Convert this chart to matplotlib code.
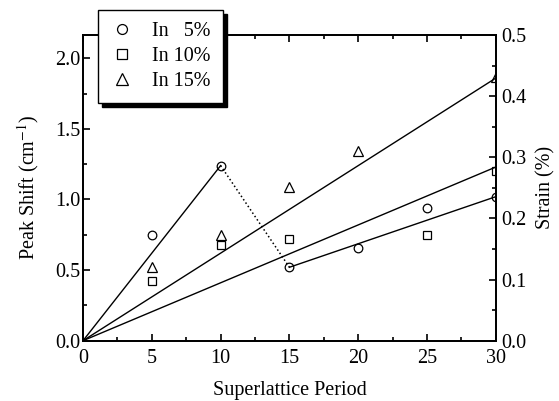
import numpy as np
import matplotlib
matplotlib.use('Agg')
import matplotlib.pyplot as plt
from matplotlib.ticker import MultipleLocator

plt.rcParams['font.family'] = ['Liberation Serif', 'DejaVu Serif']
plt.rcParams['mathtext.fontset'] = 'stix'

# data
period5 = [5, 10, 15, 20, 25, 30]
in5 = [0.75, 1.24, 0.52, 0.66, 0.94, 1.02]
period10 = [5, 10, 15, 25, 30]
in10 = [0.42, 0.68, 0.72, 0.75, 1.20]
period15 = [5, 10, 15, 20, 30]
in15 = [0.52, 0.75, 1.09, 1.34, 1.87]

# guide lines
fit5a_x = [0, 10]
fit5a_y = [0, 1.24]
fit5b_x = [15, 30]
fit5b_y = [0.52, 1.02]
link5_x = [10, 15]
link5_y = [1.24, 0.52]
fit10_x = [0, 30]
fit10_y = [0, 1.23]
fit15_x = [0, 30]
fit15_y = [0, 1.86]

fs = 14.5

fig = plt.figure(figsize=(5.59, 4.01), dpi=100)
ax = fig.add_axes([0.1485, 0.1504, 0.7385, 0.7623])
ax2 = ax.twinx()

mk = dict(ls='none', mfc='none', mec='black', mew=0.9)
h5, = ax.plot(period5, in5, marker='o', ms=6.2, label='In \u20075%', **mk)
h10, = ax.plot(period10, in10, marker='s', ms=5.8, label='In 10%', **mk)
h15, = ax.plot(period15, in15, marker='^', ms=7, label='In 15%', **mk)

ax.plot(fit5a_x, fit5a_y, color='black', lw=1)
ax.plot(fit5b_x, fit5b_y, color='black', lw=1)
ax.plot(link5_x, link5_y, color='black', lw=1.1, ls=':')
ax.plot(fit10_x, fit10_y, color='black', lw=1)
ax.plot(fit15_x, fit15_y, color='black', lw=1)

ax.set_xlim(0, 30)
ax.set_ylim(0, 2.165)
ax2.set_ylim(0, 0.5)

ax.xaxis.set_major_locator(MultipleLocator(5))
ax.xaxis.set_minor_locator(MultipleLocator(2.5))
ax.yaxis.set_major_locator(MultipleLocator(0.5))
ax.yaxis.set_minor_locator(MultipleLocator(0.25))
ax2.yaxis.set_major_locator(MultipleLocator(0.1))
ax2.yaxis.set_minor_locator(MultipleLocator(0.05))
ax.yaxis.set_major_formatter(plt.FormatStrFormatter('%.1f'))
ax2.yaxis.set_major_formatter(plt.FormatStrFormatter('%.1f'))

ax.tick_params(which='both', direction='in', top=True, labelsize=fs, width=1.2, pad=2)
ax.tick_params(axis='x', pad=6)
ax.tick_params(which='major', length=5)
ax.tick_params(which='minor', length=3)
ax2.tick_params(which='both', direction='in', labelsize=fs, width=1.2, pad=4)
ax2.tick_params(which='major', length=5)
ax2.tick_params(which='minor', length=3)
for a in (ax, ax2):
    for s in a.spines.values():
        s.set_linewidth(1.3)

ax.set_xlabel('Superlattice Period', fontsize=fs, labelpad=9)
ax.set_ylabel('Peak Shift (cm$^{-1}$)', fontsize=fs, labelpad=10)
ax2.set_ylabel('Strain (%)', fontsize=fs, labelpad=7)

leg = fig.legend(handles=[h5, h10, h15], loc='upper left',
                 bbox_to_anchor=(0.175, 0.975), bbox_transform=fig.transFigure,
                 borderaxespad=0, fancybox=False, framealpha=1, edgecolor='black',
                 shadow={'ox': 3, 'oy': -3, 'color': 'black', 'alpha': 1},
                 fontsize=fs, handlelength=1.2, handletextpad=0.9,
                 labelspacing=0.28, borderpad=0.6, markerscale=1.15)
leg.get_frame().set_linewidth(1.0)

fig.savefig('out.png', dpi=100)
